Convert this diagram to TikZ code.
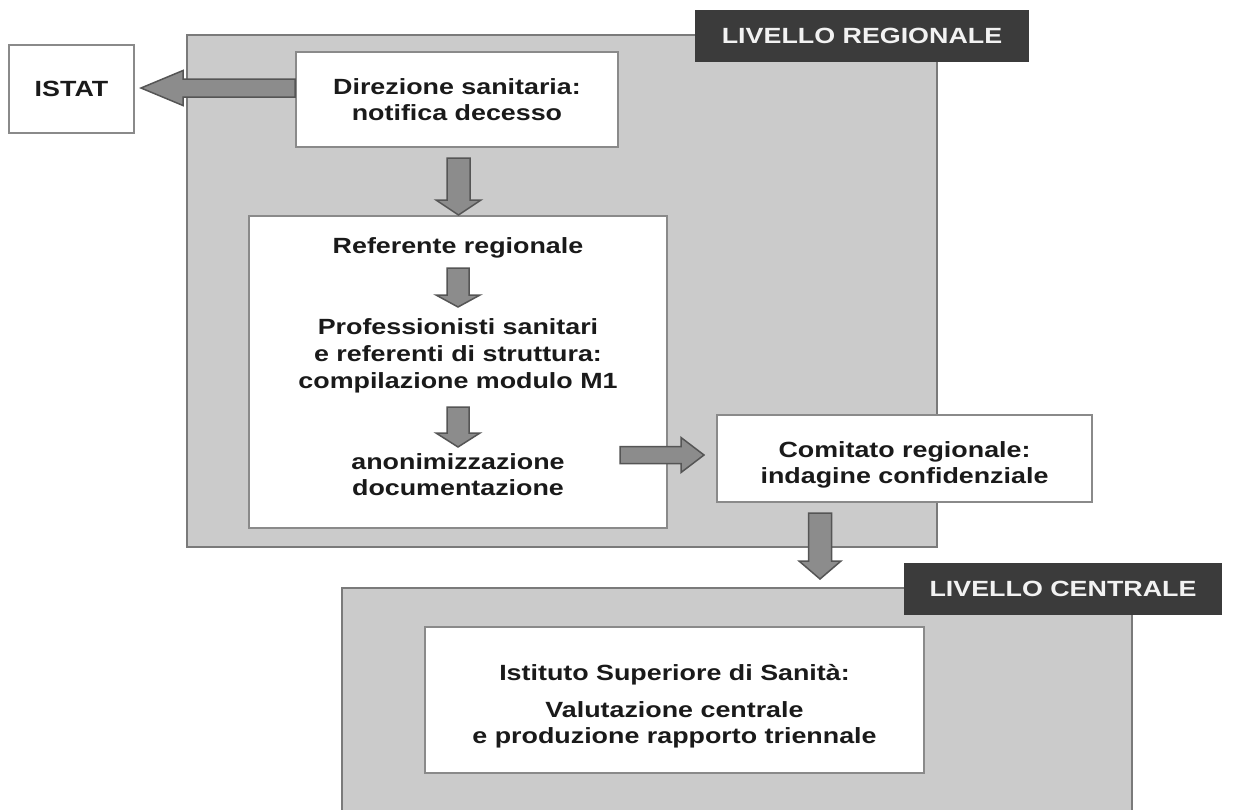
\documentclass[tikz,border=0pt]{standalone}
\usepackage{fontspec}
\setmainfont{Liberation Sans}[FakeStretch=1.22]
\usetikzlibrary{calc}
\definecolor{regfill}{HTML}{CBCBCB}
\definecolor{regedge}{HTML}{7A7A7A}
\definecolor{boxedge}{HTML}{8A8A8A}
\definecolor{arrfill}{HTML}{8C8C8C}
\definecolor{arredge}{HTML}{555555}
\definecolor{lblfill}{HTML}{3B3B3B}
\definecolor{lbltext}{HTML}{F2F2F2}
\definecolor{txtcol}{HTML}{1A1A1A}
\tikzset{
  region/.style={draw=regedge, line width=2pt, fill=regfill, inner sep=0pt},
  wbox/.style={draw=boxedge, line width=2pt, fill=white, inner sep=0pt, txt},
  txt/.style={font=\bfseries\fontsize{22}{25.5}\selectfont, text=txtcol, align=center},
  lvl/.style={fill=lblfill, text=lbltext, inner sep=0pt, font=\bfseries\fontsize{22}{25.5}\selectfont},
  barrow/.style={draw=arredge, fill=arrfill, line width=1.5pt, line join=miter},
}
\newcommand\DownBlk[5]{%
  \draw[barrow] let \p1=(#1), \p2=(#2) in
  (\x1-#3pt,\y1) -- (\x1+#3pt,\y1) -- (\x1+#3pt,\y2+#5pt) -- (\x1+#4pt,\y2+#5pt)
  -- (\x1,\y2) -- (\x1-#4pt,\y2+#5pt) -- (\x1-#3pt,\y2+#5pt) -- cycle;}
\newcommand\LeftBlk[5]{%
  \draw[barrow] let \p1=(#1), \p2=(#2) in
  (\x1,\y1+#3pt) -- (\x1,\y1-#3pt) -- (\x2+#5pt,\y1-#3pt) -- (\x2+#5pt,\y1-#4pt)
  -- (\x2,\y1) -- (\x2+#5pt,\y1+#4pt) -- (\x2+#5pt,\y1+#3pt) -- cycle;}
\newcommand\RightBlk[5]{%
  \draw[barrow] let \p1=(#1), \p2=(#2) in
  (\x1,\y1+#3pt) -- (\x1,\y1-#3pt) -- (\x2-#5pt,\y1-#3pt) -- (\x2-#5pt,\y1-#4pt)
  -- (\x2,\y1) -- (\x2-#5pt,\y1+#4pt) -- (\x2-#5pt,\y1+#3pt) -- cycle;}
\begin{document}
\begin{tikzpicture}[x=1pt,y=-1pt]
\useasboundingbox (0,0) rectangle (1233,809);
\clip (0,0) rectangle (1233,809);
% regions
\node[region, minimum width=750, minimum height=512] (reg) at (562,291) {};
\node[lvl, minimum width=334, minimum height=52] (lreg) at (862,36) {LIVELLO REGIONALE};
\node[region, minimum width=790, minimum height=232] (cen) at (737,704) {};
\node[lvl, minimum width=318, minimum height=52] (lcen) at (1063,589) {LIVELLO CENTRALE};
% boxes
\node[wbox, minimum width=125, minimum height=88] (istat) at (71.5,89) {ISTAT};
\node[wbox, minimum width=322, minimum height=95] (dir) at (457,99.5) {Direzione sanitaria:\\notifica decesso};
\node[wbox, minimum width=418, minimum height=312] (inner) at (458,372) {};
\node[txt] (ref) at (458,248) {Referente regionale};
\node[txt, font=\bfseries\fontsize{22}{27}\selectfont] (prof) at (458,356) {Professionisti sanitari\\e referenti di struttura:\\compilazione modulo M1};
\node[txt] (anon) at (458,474.5) {anonimizzazione\\documentazione};
\node[wbox, minimum width=375, minimum height=87] (com) at (904.5,458.5) {};
\node[txt] (comtxt) at (904.5,465) {Comitato regionale:\\indagine confidenziale};
\node[wbox, minimum width=499, minimum height=146] (iss) at (674.5,700) {};
\node[txt] (isstxt) at (674.5,706) {Istituto Superiore di Sanità:\\[12pt]Valutazione centrale\\e produzione rapporto triennale};
% connectors
\coordinate (l1e) at ($(istat.east)+(6,-1)$);
\coordinate (l1s) at (dir.west |- l1e);
\LeftBlk{l1s}{l1e}{9}{17.5}{42}
\coordinate (a1s) at ($(dir.south)+(1.5,10)$);
\coordinate (a1e) at (a1s |- inner.north);
\DownBlk{a1s}{a1e}{11.5}{22.5}{15}
\coordinate (a2s) at ($(ref.center)+(0,20)$);
\coordinate (a2e) at ($(prof.center)+(0,-49)$);
\DownBlk{a2s}{a2e}{11}{22}{12}
\coordinate (a3s) at ($(prof.center)+(0,51)$);
\coordinate (a3e) at ($(anon.center)+(0,-27.5)$);
\DownBlk{a3s}{a3e}{11}{22}{14}
\coordinate (r1e) at ($(com.west)+(-12,-3.5)$);
\coordinate (r1s) at ($(inner.east |- r1e)+(-48,0)$);
\RightBlk{r1s}{r1e}{8.5}{17.5}{23}
\coordinate (b1s) at ($(com.south west)+(104,10)$);
\coordinate (b1e) at ($(b1s |- cen.north)+(0,-8)$);
\DownBlk{b1s}{b1e}{11.5}{21}{18}
\end{tikzpicture}
\end{document}
